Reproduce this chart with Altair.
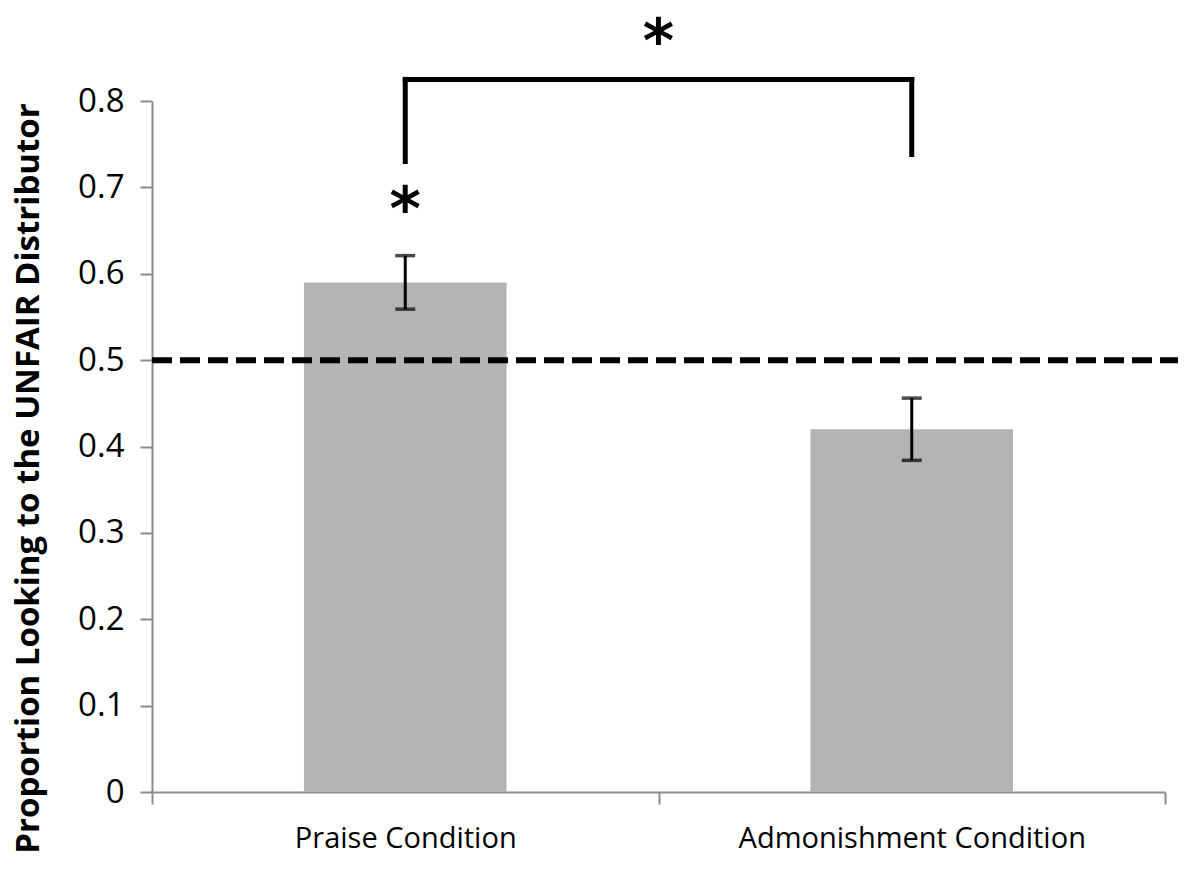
import altair as alt
import pandas as pd

# ---- data ----
conditions = ["Praise Condition", "Admonishment Condition"]
means = [0.59, 0.42]
errors = [0.031, 0.036]
chance_level = 0.5

# significance bracket (y values in data units)
bracket_top = 0.825
bracket_left_bottom = 0.73
bracket_right_bottom = 0.738
star_labels = ["*", "*"]
star_y = [0.672, 0.866]

# ---- tables ----
pos = [i + 0.5 for i in range(len(conditions))]
bars = pd.DataFrame({
    "condition": conditions,
    "pos": pos,
    "x0": [p - 0.2 for p in pos],
    "x1": [p + 0.2 for p in pos],
    "mean": means,
    "lo": [m - e for m, e in zip(means, errors)],
    "hi": [m + e for m, e in zip(means, errors)],
})
bracket = pd.DataFrame({
    "x": [pos[0], pos[0], pos[1]],
    "x2": [pos[1], pos[0], pos[1]],
    "y": [bracket_top, bracket_left_bottom, bracket_right_bottom],
    "y2": [bracket_top, bracket_top, bracket_top],
})
stars = pd.DataFrame({
    "x": [pos[0], (pos[0] + pos[1]) / 2],
    "y": star_y,
    "t": star_labels,
})
chance = pd.DataFrame({"y": [chance_level]})

label_expr = " : ".join(
    [f"datum.value == {p} ? '{c}'" for p, c in zip(pos, conditions)]
) + " : ''"

xscale = alt.Scale(domain=[0, len(conditions)], nice=False, zero=False)
yscale = alt.Scale(domain=[0, 0.8], nice=False, zero=False)

x_axis = alt.Axis(
    values=[0, 0.5, 1, 1.5, 2],
    labelExpr=label_expr,
    tickOpacity={"condition": {"test": "datum.value % 1 != 0", "value": 0}, "value": 1},
    grid=False,
    title=None,
    labelFont="Open Sans",
    labelFontSize=29,
    labelColor="black",
    labelPadding=20,
    labelFlush=False,
    labelOverlap=False,
    labelLimit=0,
    domainColor="#8c8c8c",
    domainWidth=2,
    tickColor="#8c8c8c",
    tickWidth=2,
    tickSize=12,
)
y_axis = alt.Axis(
    values=[0, 0.1, 0.2, 0.3, 0.4, 0.5, 0.6, 0.7, 0.8],
    format=".1~f",
    grid=False,
    title="Proportion Looking to the UNFAIR Distributor",
    titleFont="Open Sans",
    titleFontWeight="bold",
    titleFontSize=33,
    titleColor="black",
    titleX=-124,
    titleY=377,
    titleAlign="center",
    titleBaseline="middle",
    labelFont="Open Sans",
    labelFontSize=33,
    labelColor="black",
    labelPadding=16,
    domainColor="#8c8c8c",
    domainWidth=2,
    tickColor="#8c8c8c",
    tickWidth=2,
    tickSize=12,
)

base = alt.Chart(bars)

bar_layer = base.mark_bar(color="#b3b3b3").encode(
    x=alt.X("x0:Q", scale=xscale, axis=x_axis),
    x2="x1:Q",
    y=alt.Y("mean:Q", scale=yscale, axis=y_axis),
    y2=alt.datum(0),
)

err_rule = base.mark_rule(color="black", strokeWidth=3).encode(
    x=alt.X("pos:Q", scale=xscale), y=alt.Y("lo:Q", scale=yscale), y2="hi:Q"
)
err_cap_lo = base.mark_tick(color="black", orient="horizontal", size=20, thickness=3.5).encode(
    x=alt.X("pos:Q", scale=xscale), y=alt.Y("lo:Q", scale=yscale)
)
err_cap_hi = base.mark_tick(color="black", orient="horizontal", size=20, thickness=3.5).encode(
    x=alt.X("pos:Q", scale=xscale), y=alt.Y("hi:Q", scale=yscale)
)

chance_line = alt.Chart(chance).mark_rule(
    color="black", strokeWidth=6, strokeDash=[20, 8]
).encode(y=alt.Y("y:Q", scale=yscale), x=alt.value(0), x2=alt.value(1034))

bracket_layer = alt.Chart(bracket).mark_rule(
    color="black", strokeWidth=5, strokeCap="square", clip=False
).encode(
    x=alt.X("x:Q", scale=xscale), x2="x2:Q",
    y=alt.Y("y:Q", scale=yscale), y2="y2:Q",
)

star_layer = alt.Chart(stars).mark_text(
    font="DejaVu Sans", fontSize=60, fontWeight="bold", color="black",
    baseline="middle", align="center", clip=False
).encode(
    x=alt.X("x:Q", scale=xscale), y=alt.Y("y:Q", scale=yscale), text="t:N"
)

chart = alt.layer(
    bar_layer, chance_line, err_rule, err_cap_lo, err_cap_hi, bracket_layer, star_layer
).properties(
    width=1013,
    height=691,
    autosize=alt.AutoSizeParams(type="none"),
    padding={"left": 144, "top": 93, "right": 13, "bottom": 66},
).configure(background="white", view={"stroke": None})

chart.save("out.html", embed_options={"renderer": "svg", "actions": False})
